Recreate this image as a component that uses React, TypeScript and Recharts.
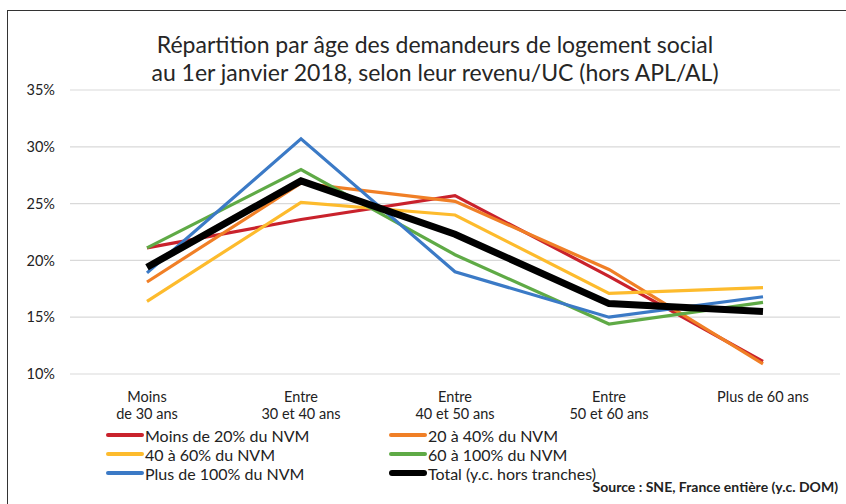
import * as React from "react";
import { CartesianGrid, Line, LineChart, XAxis, YAxis } from "recharts";

// Tranches d'âge (axe X)
const categories = [
  ["Moins", "de 30 ans"],
  ["Entre", "30 et 40 ans"],
  ["Entre", "40 et 50 ans"],
  ["Entre", "50 et 60 ans"],
  ["Plus de 60 ans"],
];

// Parts en % par tranche de revenu/UC
const moins20 = [21.1, 23.6, 25.7, 18.6, 11.1];
const de20a40 = [18.1, 26.8, 25.2, 19.2, 10.9];
const de40a60 = [16.4, 25.1, 24.0, 17.1, 17.6];
const de60a100 = [21.1, 28.0, 20.5, 14.4, 16.3];
const plus100 = [18.9, 30.7, 19.0, 15.0, 16.8];
const total = [19.4, 27.0, 22.3, 16.2, 15.5];

const yTicks = [10, 15, 20, 25, 30, 35];

const series = [
  { key: "moins20", label: "Moins de 20% du NVM", color: "#C9222C", width: 3.2, values: moins20 },
  { key: "de20a40", label: "20 à 40% du NVM", color: "#F07F26", width: 3.2, values: de20a40 },
  { key: "de40a60", label: "40 à 60% du NVM", color: "#FDBB2D", width: 3.2, values: de40a60 },
  { key: "de60a100", label: "60 à 100% du NVM", color: "#5FAA46", width: 3.2, values: de60a100 },
  { key: "plus100", label: "Plus de 100% du NVM", color: "#3B7AC6", width: 3.2, values: plus100 },
  { key: "total", label: "Total (y.c. hors tranches)", color: "#000000", width: 7, values: total },
];

// legend order as in the picture (two columns)
const legendOrder = ["moins20", "de20a40", "de40a60", "de60a100", "plus100", "total"];

const data = categories.map((c, i) => {
  const row: Record<string, number | string> = { idx: i };
  series.forEach((s) => (row[s.key] = s.values[i]));
  return row;
});

const FONT = "Lato, 'Open Sans', sans-serif";

function AgeTick(props: any) {
  const { x, y, payload } = props;
  const lines = categories[payload.value] ?? [];
  return (
    <text x={x} y={y} textAnchor="middle" fill="#222" fontSize={14.5} fontFamily={FONT}>
      {lines.map((l, i) => (
        <tspan key={i} x={x} dy={i === 0 ? 20 : 17}>
          {l}
        </tspan>
      ))}
    </text>
  );
}

export default function App() {
  return (
    <div
      style={{
        position: "absolute",
        left: 0,
        top: 0,
        width: 846,
        height: 504,
        background: "#fff",
        overflow: "hidden",
        fontFamily: FONT,
      }}
    >
      <div
        style={{
          position: "absolute",
          left: 7,
          top: 10,
          width: 860,
          height: 520,
          borderTop: "1.5px solid #333",
          borderLeft: "1.5px solid #333",
        }}
      />
      <div
        style={{
          position: "absolute",
          left: 0,
          width: 870,
          top: 30,
          textAlign: "center",
          fontSize: 23,
          lineHeight: "28px",
          color: "#262626",
        }}
      >
        Répartition par âge des demandeurs de logement social
        <br />
        au 1er janvier 2018, selon leur revenu/UC (hors APL/AL)
      </div>
      <LineChart
        width={846}
        height={504}
        data={data}
        margin={{ top: 90, right: 6, left: 20, bottom: 129 }}
        style={{ position: "absolute", left: 0, top: 0 }}
      >
        <CartesianGrid vertical={false} stroke="#d9d9d9" strokeWidth={1.2} />
        <XAxis
          dataKey="idx"
          type="number"
          domain={[-0.5, 4.5]}
          ticks={[0, 1, 2, 3, 4]}
          axisLine={false}
          tickLine={false}
          tick={<AgeTick />}
          height={1}
          interval={0}
        />
        <YAxis
          width={50}
          domain={[10, 35]}
          ticks={yTicks}
          axisLine={false}
          tickLine={false}
          tickMargin={9}
          tickFormatter={(v) => `${v}%`}
          tick={{ fill: "#222", fontSize: 14.5, fontFamily: FONT }}
        />
        {series.map((s) => (
          <Line
            key={s.key}
            dataKey={s.key}
            stroke={s.color}
            strokeWidth={s.width}
            dot={false}
            activeDot={false}
            type="linear"
            isAnimationActive={false}
          />
        ))}
      </LineChart>
      {legendOrder.map((k, i) => {
        const s = series.find((x) => x.key === k)!;
        const col = i % 2;
        const row = Math.floor(i / 2);
        return (
          <div
            key={k}
            style={{
              position: "absolute",
              left: col === 0 ? 106 : 389,
              top: 426 + row * 19,
              height: 18,
              display: "flex",
              alignItems: "center",
              fontSize: 16,
              color: "#222",
              whiteSpace: "nowrap",
            }}
          >
            <span
              style={{
                display: "inline-block",
                width: 38,
                height: s.key === "total" ? 6 : 4,
                borderRadius: 3,
                background: s.color,
                marginRight: 1,
              }}
            />
            {s.label}
          </div>
        );
      })}
      <div
        style={{
          position: "absolute",
          right: 8,
          top: 478,
          fontSize: 14,
          fontWeight: 700,
          color: "#222",
          whiteSpace: "nowrap",
        }}
      >
        Source : SNE, France entière (y.c. DOM)
      </div>
    </div>
  );
}
